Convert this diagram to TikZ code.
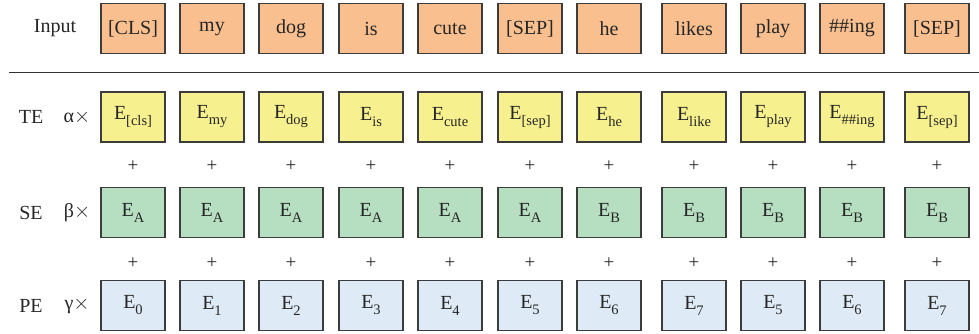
\documentclass[tikz,border=0pt]{standalone}
\usepackage{fontspec}
\setmainfont{Liberation Serif}
\usepackage{xcolor}
\usepackage{tikz}
\usetikzlibrary{positioning}

\definecolor{tokfill}{HTML}{F9BF8F}
\definecolor{tefill}{HTML}{F6F08E}
\definecolor{sefill}{HTML}{B6DEC1}
\definecolor{pefill}{HTML}{DEEAF5}
\definecolor{edge}{HTML}{3C3C3C}

% embedding symbol with lowered subscript
\newcommand{\emb}[1]{E\raisebox{-0.3em}{\fontsize{14.5}{15}\selectfont #1}}

\begin{document}
\begin{tikzpicture}[x=1pt,y=-1pt,
  box/.style={draw=edge,rectangle,minimum height=50pt,minimum width=64pt,
              line width=1.2pt,inner sep=2pt,font=\fontsize{20}{22}\selectfont,
              text=black!85},
  tok/.style ={box,fill=tokfill},
  te/.style  ={box,fill=tefill},
  se/.style  ={box,fill=sefill},
  pe/.style  ={box,fill=pefill},
  plus/.style={font=\fontsize{19}{20}\selectfont,text=black!85,inner sep=0pt},
  lbl/.style ={font=\fontsize{20}{22}\selectfont,text=black!85,inner sep=0pt}
]
\useasboundingbox (0,0) rectangle (979,334);

%% Input row
\node[lbl] (inlbl) at (55,28.5) {Input};
\node[tok] (in1)  at (133,28.5) {[CLS]};
\node[tok] (in2)  at (212,28.5) {my};
\node[tok] (in3)  at (291,28.5) {dog};
\node[tok] (in4)  at (371,28.5) {is};
\node[tok] (in5)  at (450,28.5) {cute};
\node[tok] (in6)  at (530,28.5) {[SEP]};
\node[tok] (in7)  at (609,28.5) {he};
\node[tok] (in8)  at (694,28.5) {likes};
\node[tok] (in9)  at (773,28.5) {play};
\node[tok] (in10) at (852,28.5) {\#\#ing};
\node[tok] (in11) at (937,28.5) {[SEP]};

%% Separator rule
\coordinate (ruleL) at (9,72.5);
\coordinate (ruleR) at (979,72.5);
\draw[line width=1pt,black!80] (ruleL) -- (ruleR);

%% Token embeddings
\node[lbl] (telbl) at (31,117) {TE};
\node[lbl] (tefac) at (77,117) {α$\times$};
\node[te] (te1)  at (133,117) {\emb{[cls]}};
\node[te] (te2)  at (212,117) {\emb{my}};
\node[te] (te3)  at (291,117) {\emb{dog}};
\node[te] (te4)  at (371,117) {\emb{is}};
\node[te] (te5)  at (450,117) {\emb{cute}};
\node[te] (te6)  at (530,117) {\emb{[sep]}};
\node[te] (te7)  at (609,117) {\emb{he}};
\node[te] (te8)  at (694,117) {\emb{like}};
\node[te] (te9)  at (773,117) {\emb{play}};
\node[te] (te10) at (852,117) {\emb{\#\#ing}};
\node[te] (te11) at (937,117) {\emb{[sep]}};

%% Plus signs between TE and SE
\node[plus] (pa1)  at (133,166) {+};
\node[plus] (pa2)  at (212,166) {+};
\node[plus] (pa3)  at (291,166) {+};
\node[plus] (pa4)  at (371,166) {+};
\node[plus] (pa5)  at (450,166) {+};
\node[plus] (pa6)  at (530,166) {+};
\node[plus] (pa7)  at (609,166) {+};
\node[plus] (pa8)  at (694,166) {+};
\node[plus] (pa9)  at (773,166) {+};
\node[plus] (pa10) at (852,166) {+};
\node[plus] (pa11) at (937,166) {+};

%% Segment embeddings
\node[lbl] (selbl) at (31,212.5) {SE};
\node[lbl] (sefac) at (77,212.5) {β$\times$};
\node[se] (se1)  at (133,212.5) {\emb{A}};
\node[se] (se2)  at (212,212.5) {\emb{A}};
\node[se] (se3)  at (291,212.5) {\emb{A}};
\node[se] (se4)  at (371,212.5) {\emb{A}};
\node[se] (se5)  at (450,212.5) {\emb{A}};
\node[se] (se6)  at (530,212.5) {\emb{A}};
\node[se] (se7)  at (609,212.5) {\emb{B}};
\node[se] (se8)  at (694,212.5) {\emb{B}};
\node[se] (se9)  at (773,212.5) {\emb{B}};
\node[se] (se10) at (852,212.5) {\emb{B}};
\node[se] (se11) at (937,212.5) {\emb{B}};

%% Plus signs between SE and PE
\node[plus] (pb1)  at (133,263) {+};
\node[plus] (pb2)  at (212,263) {+};
\node[plus] (pb3)  at (291,263) {+};
\node[plus] (pb4)  at (371,263) {+};
\node[plus] (pb5)  at (450,263) {+};
\node[plus] (pb6)  at (530,263) {+};
\node[plus] (pb7)  at (609,263) {+};
\node[plus] (pb8)  at (694,263) {+};
\node[plus] (pb9)  at (773,263) {+};
\node[plus] (pb10) at (852,263) {+};
\node[plus] (pb11) at (937,263) {+};

%% Position embeddings
\node[lbl] (pelbl) at (31,305.5) {PE};
\node[lbl] (pefac) at (77,305.5) {γ$\times$};
\node[pe] (pe1)  at (133,305.5) {\emb{0}};
\node[pe] (pe2)  at (212,305.5) {\emb{1}};
\node[pe] (pe3)  at (291,305.5) {\emb{2}};
\node[pe] (pe4)  at (371,305.5) {\emb{3}};
\node[pe] (pe5)  at (450,305.5) {\emb{4}};
\node[pe] (pe6)  at (530,305.5) {\emb{5}};
\node[pe] (pe7)  at (609,305.5) {\emb{6}};
\node[pe] (pe8)  at (694,305.5) {\emb{7}};
\node[pe] (pe9)  at (773,305.5) {\emb{5}};
\node[pe] (pe10) at (852,305.5) {\emb{6}};
\node[pe] (pe11) at (937,305.5) {\emb{7}};
\end{tikzpicture}
\end{document}
